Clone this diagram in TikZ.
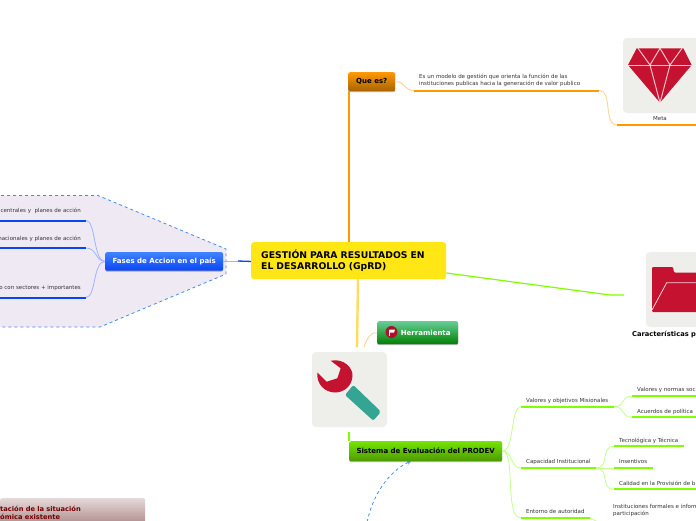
\documentclass[tikz,border=0pt]{standalone}
\usepackage{fontspec}
\setmainfont{DejaVu Sans}
\usetikzlibrary{shadows,arrows.meta}
\definecolor{orgL}{HTML}{FFD08A}
\definecolor{org}{HTML}{FF9900}
\definecolor{grn}{HTML}{80FF00}
\definecolor{grnL}{HTML}{C4FF8C}
\definecolor{blu}{HTML}{0A45F5}
\definecolor{bluL}{HTML}{9DB4FF}
\definecolor{crim}{HTML}{C41230}
\definecolor{tile}{HTML}{EEEFEB}
\definecolor{lbl}{HTML}{333333}
\definecolor{cloudfill}{HTML}{EFE9F4}
\definecolor{cloudline}{HTML}{3F8CEB}
\definecolor{rootfill}{HTML}{FFE614}
\definecolor{tealh}{HTML}{35A593}
\definecolor{roadyel}{HTML}{FFDC60}
\tikzset{
  small/.style={inner sep=0pt,text=lbl,font=\fontsize{5.5}{7}\selectfont,align=left},
  topic/.style={inner sep=0pt,rounded corners=2pt,font=\bfseries\fontsize{7}{8}\selectfont,
    drop shadow={shadow xshift=0pt,shadow yshift=-1pt,opacity=.3,fill=black}},
  under/.style={line width=2pt},
  thread/.style={line width=.8pt},
  gemline/.style={draw=white,draw opacity=.75,line width=1pt},
  tile box/.style={fill=tile,rounded corners=4pt},
}
\begin{document}
\begin{tikzpicture}[x=1pt,y=-1pt]
\useasboundingbox (0,0) rectangle (696,520);
\clip (0,0) rectangle (696,520);
\fill[white] (0,0) rectangle (696,520);

% cloud round the left branch
\filldraw[fill=cloudfill,draw=cloudline,dashed,line width=.8pt]
  (-5,195.5) -- (98,195.5) -- (226,249) -- (226,274) -- (100,327) -- (-5,327) -- cycle;

% coordinates for the underlines
\coordinate (ua1) at (-5,220.5); \coordinate (ua2) at (86,220.5);
\coordinate (ub1) at (-5,248);   \coordinate (ub2) at (86,248);
\coordinate (uc1) at (-5,297.5); \coordinate (uc2) at (86,297.5);
\coordinate (um1) at (414,90.5); \coordinate (um2) at (599,90.5);
\coordinate (un1) at (617,125);  \coordinate (un2) at (700,125);
\coordinate (gf1) at (610,295);  \coordinate (gf2) at (624,295);
\coordinate (v1) at (521,406.7); \coordinate (v2) at (614,406.7);
\coordinate (va1) at (632,396);  \coordinate (va2) at (700,396);
\coordinate (vb1) at (632,417.3);\coordinate (vb2) at (700,417.3);
\coordinate (c1) at (521,468);   \coordinate (c2) at (595.7,468);
\coordinate (ca1) at (614,446.3);\coordinate (ca2) at (684,446.3);
\coordinate (cb1) at (614,468);  \coordinate (cb2) at (652.7,468);
\coordinate (cc1) at (614,489.3);\coordinate (cc2) at (700,489.3);
\coordinate (e1) at (521,518);   \coordinate (e2) at (590,518);
\coordinate (e3) at (604,525);

% main nodes
\node[inner sep=0pt,rounded corners=3pt,anchor=north west,minimum width=195pt,minimum height=37pt,fill=rootfill,
  text width=175pt,align=left,font=\bfseries\fontsize{9.25}{11}\selectfont] (root) at (251,242)
  {GESTIÓN PARA RESULTADOS EN\\EL DESARROLLO (GpRD)};
\node[topic,anchor=north west,minimum width=47pt,minimum height=19pt,top color=org,bottom color=org!65!black] (que) at (348,72) {Que es?};
\node[topic,anchor=north west,minimum width=118pt,minimum height=18.5pt,top color=blue!65!cyan!75,bottom color=blu,text=white] (fases) at (105,252) {Fases de Accion en el país};
\node[topic,anchor=north west,minimum width=81pt,minimum height=23pt,top color=green!35!teal!60!white,bottom color=green!50!black,text=white] (herr) at (377,321) {\hspace*{19pt}Herramienta\hspace*{3pt}};
\node[topic,anchor=north west,minimum width=153pt,minimum height=20pt,top color=grn!90!black,bottom color=grn!60!black] (sist) at (349,441) {Sistema de Evaluación del PRODEV};
\node[inner sep=0pt,anchor=north west,minimum width=145pt,minimum height=30pt,rounded corners=2pt,top color=red!20!gray!25,bottom color=red!30!black!50!white,text=red!45!black,text width=145pt,align=left,font=\bfseries\fontsize{6.7}{8}\selectfont] (sit) at (0,498)
  {tación de la situación\\ómica existente};

% picture tiles
\fill[tile box] (623,38) rectangle (705,113);
\fill[tile box] (646,252) rectangle (720,327);
\fill[tile box] (312,352) rectangle (387,427);
\coordinate (wrench) at (349,432);

% connectors: top branch
\draw[org,line width=1.6pt] (root.north west -| que.south west) ++(1,0) -- ([xshift=1pt]que.south west);
\draw[orgL,thread] (que.east) .. controls (405,81) and (404,90.5) .. (um1);
\draw[org,under] (um1) -- (um2);
\draw[orgL,thread] (um2) .. controls (613,90.5) and (603,125) .. (un1);
\draw[org,under] (un1) -- (un2);
% right branch
\draw[grn,line width=1.2pt] (root.east |- 0,273) -- (gf1) -- (gf2);
% left branch
\draw[bluL,line width=1.3pt] (fases.east) -- (root.west |- fases.east);
\draw[blu,line width=1.3pt] (238,261) -- (root.west |- fases.east);
\draw[bluL,thread] (fases.west) .. controls (93,261) and (96,220.5) .. (ua2);
\draw[bluL,thread] (fases.west) .. controls (95,261) and (97,248) .. (ub2);
\draw[bluL,thread] (fases.west) .. controls (93,261) and (96,297.5) .. (uc2);
\draw[blu,under] (ua1) -- (ua2); \draw[blu,under] (ub1) -- (ub2); \draw[blu,under] (uc1) -- (uc2);
% lower branch
\coordinate (tilet) at (357,347);
\draw[roadyel,line width=2.4pt] (root.south west -| tilet) ++(1,0) -- (tilet);
\coordinate (orgs) at (364,347);
\draw[orgL,thread] (orgs) .. controls (367,338) and (371,332) .. (herr.west);
\draw[grn,line width=1.2pt] (wrench) -- (wrench |- sist.north);
% dashed link
\coordinate (dl) at (367,522);
\draw[cloudline,dashed,line width=.8pt,-{Stealth[length=4pt,width=4pt]}] (dl) .. controls (373,495) and (388,472) .. (411,461);
% green tree
\draw[grnL,thread] (sist.east) .. controls (515,450) and (510,407) .. (v1);
\draw[grnL,thread] (sist.east) .. controls (512,450) and (510,468) .. (c1);
\draw[grnL,thread] (sist.east) .. controls (516,450) and (504,518) .. (e1);
\draw[grnL,thread] (v2) .. controls (626,406.7) and (620,396) .. (va1);
\draw[grnL,thread] (v2) .. controls (626,406.7) and (620,417.3) .. (vb1);
\draw[grnL,thread] (c2) .. controls (610,468) and (600,446.3) .. (ca1);
\draw[grnL,thread] (c2) -- (cb1);
\draw[grnL,thread] (c2) .. controls (610,468) and (600,489.3) .. (cc1);
\draw[grnL,thread] (e2) -- (e3);
\foreach \a/\b in {v1/v2,va1/va2,vb1/vb2,c1/c2,ca1/ca2,cb1/cb2,cc1/cc2,e1/e2} \draw[grn,under] (\a) -- (\b);

% texts
\node[small,anchor=base east] (ta) at (81,212) {centrales y \ planes de acción};
\node[small,anchor=base east] (tb) at (81,240) {nacionales y planes de acción};
\node[small,anchor=base east] (tc) at (81,289) {o con sectores + importantes};
\node[small,anchor=north west] (tm) at (419,73.5) {Es un modelo de gestión que orienta la función de las\\instituciones publicas hacia la generación de valor publico};
\node[small,anchor=base] (tmeta) at (660,120) {Meta};
\node[small,anchor=base west,text=black,font=\bfseries\fontsize{6.7}{8}\selectfont] (tcar) at (632,336) {Características p};
\node[small,anchor=base west] (tv) at (526,402) {Valores y objetivos Misionales};
\node[small,anchor=base west] (tva) at (637,391) {Valores y normas soc};
\node[small,anchor=base west] (tvb) at (637,413) {Acuerdos de política};
\node[small,anchor=base west] (tcp) at (526,463) {Capacidad Institucional};
\node[small,anchor=base west] (tca) at (619,442) {Tecnológica y Técnica};
\node[small,anchor=base west] (tcb) at (619,463) {Insentivos};
\node[small,anchor=base west] (tcc) at (619,485) {Calidad en la Provisión de b};
\node[small,anchor=base west] (te) at (526,513) {Entorno de autoridad};
\node[small,anchor=north west] (tf) at (613,504) {Instituciones formales e inform\\participación};

% gem
\fill[crim] (636.7,48.3) -- (683.3,48.3) -- (691.7,65) -- (660,102.7) -- (628,65) -- cycle;
\draw[gemline] (628,65) -- (691.7,65);
\draw[gemline] (638,48.3) -- (650,65) -- (660,102.7) -- (670,65) -- (682,48.3);
\draw[gemline] (650,65) -- (660,48.3) -- (670,65);
% folder
\fill[crim,rounded corners=1pt] (652,312) -- (652,267) -- (673,267) -- (674,272.5) -- (705,272.5) -- (705,312) -- cycle;
\draw[white,draw opacity=.8,line width=.8pt] (652,310) -- (666.7,282.7) -- (705,282.7);
% wrench
\fill[crim] (330.7,360.7) .. controls (344,358) and (353,368) .. (352.5,376) .. controls (352,386) and (344,392.5) .. (335,392.5) .. controls (325,392.5) and (316,384) .. (317.5,372.5) -- (326.7,381.7) -- (337.3,378.3) -- (340.7,368.3) -- cycle;
\fill[tealh,rounded corners=2pt] (345,395) -- (353.3,385) -- (381,411.7) -- (373.3,420.7) -- cycle;
% flag icon
\fill[crim!90!black] (391.5,332) circle (6);
\fill[white] (389.5,329.5) -- (395,329.5) -- (394,332.5) -- (389.5,332.5) -- cycle;
\draw[white,line width=.5pt] (389.5,329.5) -- (389.5,336);
\end{tikzpicture}
\end{document}
